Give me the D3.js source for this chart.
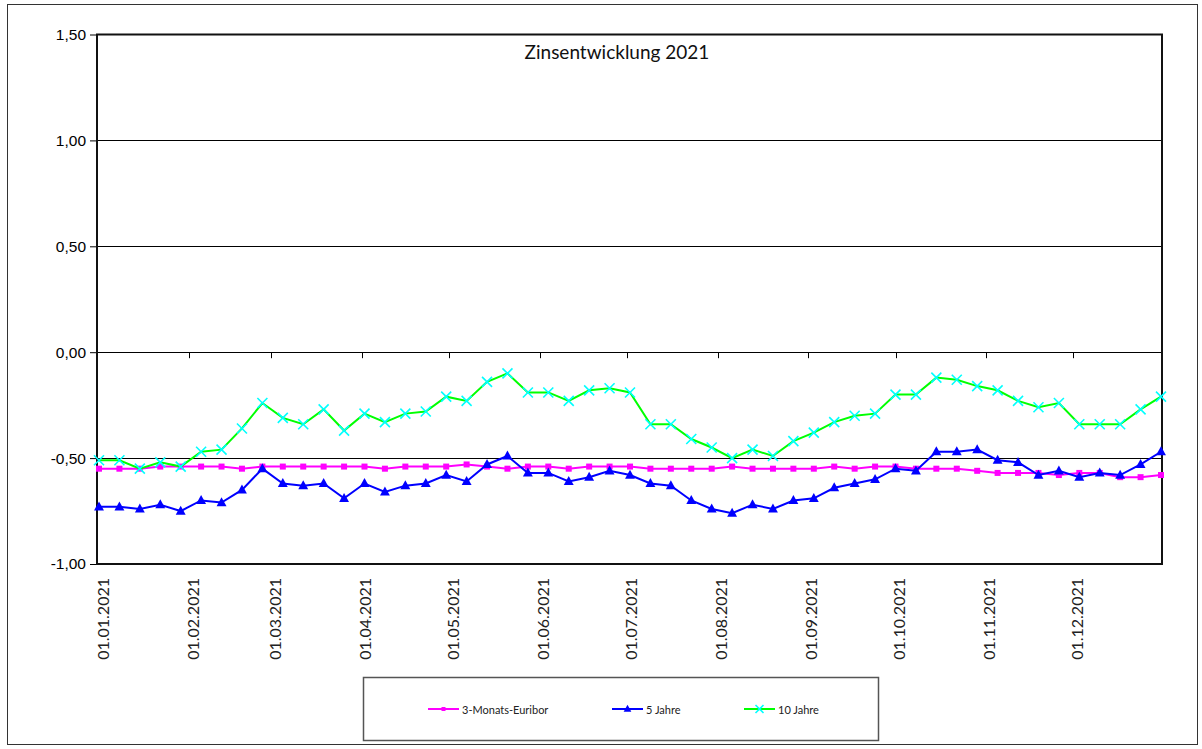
<!DOCTYPE html>
<html>
<head>
<meta charset="utf-8">
<script src="https://cdn.jsdelivr.net/npm/d3@7"></script>
<style>
  body { margin: 0; background: #fff; }
  svg { display: block; }
</style>
</head>
<body>
<script>
// weekly dates, Fridays from 01.01.2021 to 31.12.2021
const dates = d3.timeDay.range(new Date(2021, 0, 1), new Date(2021, 11, 31, 12), 7);

const euribor = [-0.55, -0.55, -0.55, -0.54, -0.54, -0.54, -0.54, -0.55, -0.54, -0.54, -0.54, -0.54, -0.54, -0.54,
  -0.55, -0.54, -0.54, -0.54, -0.53, -0.54, -0.55, -0.54, -0.54, -0.55, -0.54, -0.54, -0.54, -0.55,
  -0.55, -0.55, -0.55, -0.54, -0.55, -0.55, -0.55, -0.55, -0.54, -0.55, -0.54, -0.54, -0.55, -0.55,
  -0.55, -0.56, -0.57, -0.57, -0.57, -0.58, -0.57, -0.57, -0.59, -0.59, -0.58];

const jahre5 = [-0.73, -0.73, -0.74, -0.72, -0.75, -0.70, -0.71, -0.65, -0.55, -0.62, -0.63, -0.62, -0.69, -0.62,
  -0.66, -0.63, -0.62, -0.58, -0.61, -0.53, -0.49, -0.57, -0.57, -0.61, -0.59, -0.56, -0.58, -0.62,
  -0.63, -0.70, -0.74, -0.76, -0.72, -0.74, -0.70, -0.69, -0.64, -0.62, -0.60, -0.55, -0.56, -0.47,
  -0.47, -0.46, -0.51, -0.52, -0.58, -0.56, -0.59, -0.57, -0.58, -0.53, -0.47];

const jahre10 = [-0.51, -0.51, -0.55, -0.52, -0.54, -0.47, -0.46, -0.36, -0.24, -0.31, -0.34, -0.27, -0.37, -0.29,
  -0.33, -0.29, -0.28, -0.21, -0.23, -0.14, -0.10, -0.19, -0.19, -0.23, -0.18, -0.17, -0.19, -0.34,
  -0.34, -0.41, -0.45, -0.50, -0.46, -0.49, -0.42, -0.38, -0.33, -0.30, -0.29, -0.20, -0.20, -0.12,
  -0.13, -0.16, -0.18, -0.23, -0.26, -0.24, -0.34, -0.34, -0.34, -0.27, -0.21];

const yTicks = [-1.0, -0.5, 0, 0.5, 1.0, 1.5];
const monthTicks = d3.timeMonth.range(new Date(2021, 0, 1), new Date(2021, 11, 2));

const series = [
  { name: "3-Monats-Euribor", values: euribor, color: "#ff00ff", marker: "square" },
  { name: "5 Jahre", values: jahre5, color: "#0000ff", marker: "triangle" },
  { name: "10 Jahre", values: jahre10, color: "#00ff00", marker: "cross" }
];

const width = 1202, height = 749;
const plot = { left: 97, right: 1162, top: 34.5, bottom: 564 };

const svg = d3.select("body").append("svg").attr("width", width).attr("height", height);

// outer chart border
svg.append("rect")
  .attr("x", 7.5).attr("y", 4.5)
  .attr("width", 1190).attr("height", 740)
  .attr("fill", "none").attr("stroke", "#333").attr("stroke-width", 1);

const x = d3.scaleTime()
  .domain([dates[0], dates[dates.length - 1]])
  .range([plot.left + 2, plot.right - 1]);

const y = d3.scaleLinear()
  .domain([-1, 1.5])
  .range([plot.bottom, plot.top]);

const fmt = v => d3.format(".2f")(v).replace(".", ",").replace("−", "-");

// gridlines
svg.append("g")
  .selectAll("line")
  .data(yTicks.filter(v => v > -1 && v < 1.5))
  .enter()
  .append("line")
  .attr("x1", plot.left).attr("x2", plot.right)
  .attr("y1", d => Math.round(y(d)) + 0.5).attr("y2", d => Math.round(y(d)) + 0.5)
  .attr("stroke", "#000").attr("stroke-width", 1);

// y axis
const yAxis = svg.append("g")
  .attr("transform", `translate(${plot.left},0)`)
  .call(d3.axisLeft(y).tickValues(yTicks).tickFormat(fmt).tickSize(7).tickSizeOuter(0));
yAxis.select(".domain").remove();
yAxis.selectAll("text")
  .attr("font-family", "Liberation Sans, Arial, sans-serif")
  .attr("font-size", "15.5px")
  .attr("fill", "#000")
  .attr("dx", "-1");
yAxis.selectAll("line").attr("stroke", "#000");

// category ticks on the zero line
svg.append("g")
  .selectAll("line")
  .data(monthTicks.slice(1))
  .enter()
  .append("line")
  .attr("x1", d => Math.round(x(d)) + 0.5).attr("x2", d => Math.round(x(d)) + 0.5)
  .attr("y1", y(0)).attr("y2", y(0) + 6)
  .attr("stroke", "#000");

// date labels at the bottom
svg.append("g")
  .selectAll("text")
  .data(monthTicks)
  .enter()
  .append("text")
  .attr("transform", d => `translate(${x(d) + 3},${plot.bottom + 14}) rotate(-90)`)
  .attr("text-anchor", "end")
  .attr("dominant-baseline", "central")
  .attr("font-family", "Lato, sans-serif")
  .attr("font-size", "16px")
  .attr("fill", "#222")
  .text(d3.timeFormat("%d.%m.%Y"));

// plot frame
svg.append("rect")
  .attr("x", plot.left).attr("y", plot.top)
  .attr("width", plot.right - plot.left).attr("height", plot.bottom - plot.top)
  .attr("fill", "none").attr("stroke", "#111").attr("stroke-width", 2);

const line = d3.line()
  .x((d, i) => x(dates[i]))
  .y(d => y(d));

function drawMarker(g, type, color, size) {
  if (type === "square") {
    g.append("rect")
      .attr("x", -size / 2).attr("y", -size / 2)
      .attr("width", size).attr("height", size)
      .attr("fill", color);
  } else if (type === "triangle") {
    g.append("path")
      .attr("d", `M0,${-size * 0.6}L${size * 0.55},${size * 0.4}L${-size * 0.55},${size * 0.4}Z`)
      .attr("fill", color);
  } else {
    g.append("path")
      .attr("d", `M${-size / 2},${-size / 2}L${size / 2},${size / 2}M${size / 2},${-size / 2}L${-size / 2},${size / 2}`)
      .attr("stroke", "#00ffff").attr("stroke-width", 1.6).attr("fill", "none");
  }
}

const sizes = { square: 6, triangle: 9, cross: 10 };

// lines and markers
series.forEach(s => {
  svg.append("path")
    .datum(s.values)
    .attr("d", line)
    .attr("fill", "none")
    .attr("stroke", s.color)
    .attr("stroke-width", 2);

  svg.append("g")
    .selectAll("g")
    .data(s.values)
    .enter()
    .append("g")
    .attr("transform", (d, i) => `translate(${x(dates[i])},${y(d)})`)
    .each(function () { drawMarker(d3.select(this), s.marker, s.color, sizes[s.marker]); });
});

// title
svg.append("text")
  .attr("x", 617).attr("y", 59)
  .attr("text-anchor", "middle")
  .attr("font-family", "Lato, sans-serif")
  .attr("font-size", "19px")
  .attr("fill", "#111")
  .text("Zinsentwicklung 2021");

// legend
const legend = svg.append("g");
legend.append("rect")
  .attr("x", 363.5).attr("y", 677.5)
  .attr("width", 515).attr("height", 63)
  .attr("fill", "#fff").attr("stroke", "#555").attr("stroke-width", 1.5);

const legendX = [428, 612, 744];
series.forEach((s, i) => {
  const g = legend.append("g").attr("transform", `translate(${legendX[i]},709)`);
  g.append("line").attr("x1", 0).attr("x2", 31).attr("stroke", s.color).attr("stroke-width", 2);
  const m = g.append("g").attr("transform", "translate(15.5,0)");
  drawMarker(m, s.marker, s.color, sizes[s.marker] - 2);
  g.append("text")
    .attr("x", 34).attr("y", 0)
    .attr("dominant-baseline", "central")
    .attr("font-family", "Lato, sans-serif")
    .attr("font-size", "11px")
    .attr("fill", "#222")
    .text(s.name);
});
</script>
</body>
</html>
